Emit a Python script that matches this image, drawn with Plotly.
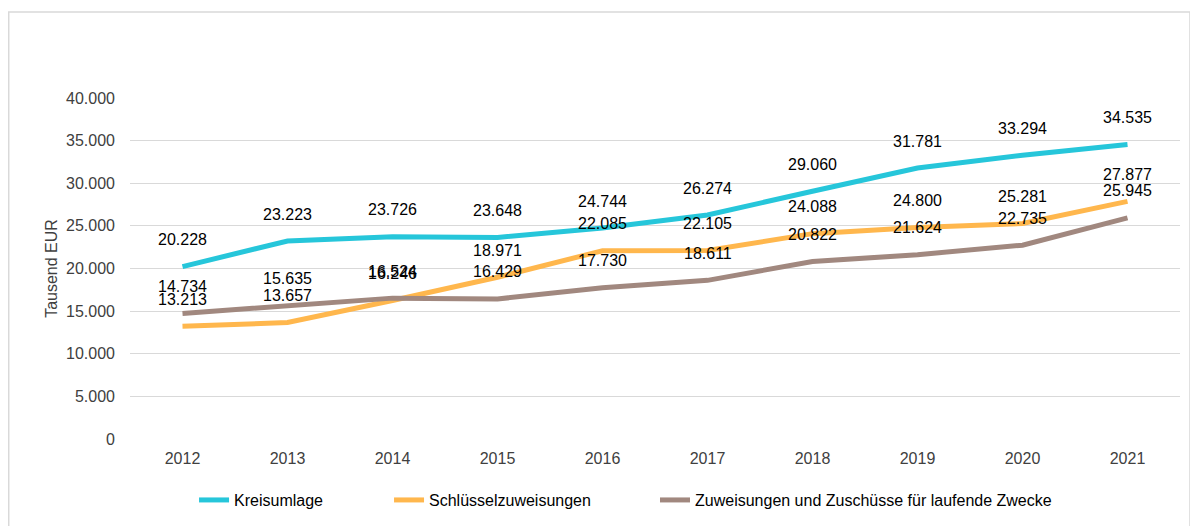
import plotly.graph_objects as go

years = ["2012", "2013", "2014", "2015", "2016", "2017", "2018", "2019", "2020", "2021"]
kreisumlage = [20228, 23223, 23726, 23648, 24744, 26274, 29060, 31781, 33294, 34535]
schluessel = [13213, 13657, 16246, 18971, 22085, 22105, 24088, 24800, 25281, 27877]
zuweisungen = [14734, 15635, 16524, 16429, 17730, 18611, 20822, 21624, 22735, 25945]
y_ticks = [0, 5000, 10000, 15000, 20000, 25000, 30000, 35000, 40000]
y_tick_labels = ["0", "5.000", "10.000", "15.000", "20.000", "25.000", "30.000", "35.000", "40.000"]

series = [
    ("Kreisumlage", kreisumlage, "#26C6DA", "legend", 0.061),
    ("Schlüsselzuweisungen", schluessel, "#FFB74D", "legend2", 0.2467),
    ("Zuweisungen und Zuschüsse für laufende Zwecke", zuweisungen, "#A1887F", "legend3", 0.5),
]

FONT = "Liberation Sans, Arial, sans-serif"

def fmt(v):
    return f"{v:,}".replace(",", ".")

fig = go.Figure()
annotations = []
legends = {}
for name, vals, color, leg, lx in series:
    fig.add_trace(go.Scatter(
        x=list(range(len(years))), y=vals, name=name, mode="lines",
        line=dict(color=color, width=5), legend=leg,
    ))
    legends[leg] = dict(orientation="h", x=lx, xanchor="left", y=-0.179, yanchor="middle",
                        font=dict(family=FONT, size=16, color="#000000"),
                        itemwidth=30, bgcolor="rgba(0,0,0,0)", borderwidth=0)
    for i, v in enumerate(vals):
        annotations.append(dict(
            x=i, y=v, text=fmt(v), showarrow=False, yshift=27,
            font=dict(family=FONT, size=16, color="#000000"),
            xanchor="center", yanchor="middle",
        ))

fig.update_layout(
    width=1190, height=518,
    margin=dict(l=122, r=18, t=90, b=87, autoexpand=False),
    paper_bgcolor="white", plot_bgcolor="white",
    font=dict(family=FONT, size=16, color="#404040"),
    showlegend=True,
    annotations=annotations,
    shapes=[dict(type="rect", xref="paper", yref="paper",
                 x0=-0.1155, x1=1.0095, y0=-0.27, y1=1.252,
                 line=dict(color="#D9D9D9", width=1.5), fillcolor="rgba(0,0,0,0)", layer="below")],
    **legends,
)
fig.update_xaxes(range=[-0.5, len(years) - 0.5], tickvals=list(range(len(years))), ticktext=years,
                 showgrid=False, showline=False, zeroline=False, automargin=False,
                 ticks="", ticklabelstandoff=8, tickfont=dict(family=FONT, size=16, color="#404040"))
fig.update_yaxes(range=[0, 40000], tickvals=y_ticks, ticktext=y_tick_labels,
                 showgrid=True, gridcolor="#D9D9D9", gridwidth=1.2, zeroline=False,
                 showline=False, ticks="", ticklabelstandoff=14, automargin=False,
                 tickfont=dict(family=FONT, size=16, color="#404040"),
                 title=dict(text="Tausend EUR", font=dict(family=FONT, size=16, color="#404040"), standoff=4))

fig.write_html("out.html")
